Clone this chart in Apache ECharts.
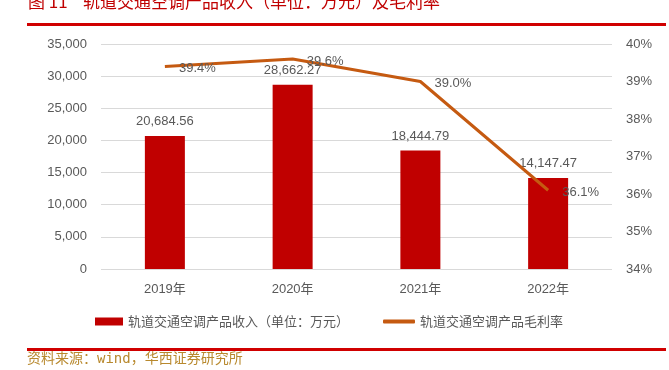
<!DOCTYPE html>
<html><head><meta charset="utf-8">
<script src="https://cdn.jsdelivr.net/npm/echarts@6/dist/echarts.min.js"></script>
<style>html,body{margin:0;padding:0;background:#fff}#c{width:669px;height:370px}</style>
</head><body><div id="c"></div>
<script>
const categories = ['2019年', '2020年', '2021年', '2022年'];
const revenue = [20684.56, 28662.27, 18444.79, 14147.47];
const margin = [39.4, 39.6, 39.0, 36.1];
const leftTicks = [0, 5000, 10000, 15000, 20000, 25000, 30000, 35000];
const rightTicks = [34, 35, 36, 37, 38, 39, 40];

const font = '"Liberation Sans", Arial, "Noto Sans CJK SC", sans-serif';
const legText = { color: '#595959', fontSize: 13, fontFamily: '"Noto Sans CJK SC", sans-serif' };
const chart = echarts.init(document.getElementById('c'));
chart.setOption({
  animation: false,
  textStyle: { fontFamily: font },
  grid: { left: 101, right: 57, top: 44, bottom: 101 },
  legend: [
    {
      top: 310, left: 90, textStyle: legText,
      data: [{ name: '轨道交通空调产品收入（单位：万元）', icon: 'rect' }],
      itemWidth: 28, itemHeight: 8
    },
    {
      top: 310, left: 378, textStyle: legText,
      data: [{ name: '轨道交通空调产品毛利率', icon: 'roundRect' }],
      itemWidth: 32, itemHeight: 4
    }
  ],
  xAxis: {
    type: 'category', data: categories,
    axisLine: { show: false }, axisTick: { show: false },
    axisLabel: { color: '#595959', fontSize: 13, margin: 14, fontFamily: '"Liberation Sans", "Noto Sans CJK SC", sans-serif' }
  },
  yAxis: [
    {
      type: 'value', min: 0, max: 35000, interval: 5000,
      axisLine: { show: false }, axisTick: { show: false },
      splitLine: { lineStyle: { color: '#d9d9d9' } },
      axisLabel: { color: '#595959', fontSize: 13, margin: 14,
        formatter: v => v.toLocaleString('en-US') }
    },
    {
      type: 'value', min: 34, max: 40, interval: 1,
      axisLine: { show: false }, axisTick: { show: false },
      splitLine: { show: false },
      axisLabel: { color: '#595959', fontSize: 13, margin: 14, formatter: v => v + '%' }
    }
  ],
  series: [
    {
      name: '轨道交通空调产品收入（单位：万元）', type: 'bar', data: revenue,
      barWidth: 40, itemStyle: { color: '#c00000' },
      label: { show: true, position: 'top', distance: 8, color: '#595959', fontSize: 13,
        formatter: p => p.value.toLocaleString('en-US', { minimumFractionDigits: 2, maximumFractionDigits: 2 }) }
    },
    {
      name: '轨道交通空调产品毛利率', type: 'line', yAxisIndex: 1, data: margin,
      symbol: 'circle', symbolSize: 0.1, showSymbol: true,
      lineStyle: { color: '#c55a11', width: 3 }, itemStyle: { color: '#c55a11' },
      label: { show: true, position: 'right', distance: 0, offset: [14, 2], color: '#595959', fontSize: 13,
        formatter: p => p.value.toFixed(1) + '%' }
    }
  ],
  graphic: [
    { type: 'text', x: 28, y: 2, style: { text: '图 11', fill: '#c00000', font: '17px "Noto Sans CJK SC", sans-serif', verticalAlign: 'middle' } },
    { type: 'text', x: 83, y: 2, style: { text: '轨道交通空调产品收入（单位：万元）及毛利率', fill: '#c00000', font: '17px "Noto Sans CJK SC", sans-serif', verticalAlign: 'middle' } },
    { type: 'rect', shape: { x: 27, y: 23, width: 639, height: 3 }, style: { fill: '#d00000' } },
    { type: 'rect', shape: { x: 27, y: 348, width: 639, height: 3 }, style: { fill: '#d00000' } },
    { type: 'text', x: 27, y: 359, style: { text: '资料来源：wind，华西证券研究所', fill: '#b8892e', font: '14px "DejaVu Sans Mono", "Noto Sans CJK SC", monospace', verticalAlign: 'middle' } }
  ]
});
</script></body></html>
